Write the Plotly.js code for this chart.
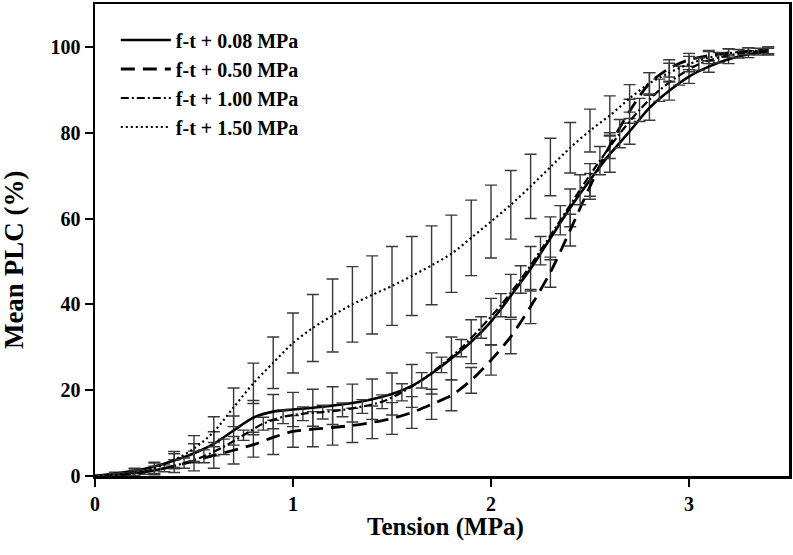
<!DOCTYPE html>
<html>
<head>
<meta charset="utf-8">
<script src="https://cdn.plot.ly/plotly-3.0.1.min.js"></script>
<style>html,body{margin:0;padding:0;background:#fff;}#chart{width:793px;height:555px;}</style>
</head>
<body>
<div id="chart"></div>
<script>
// Tension (MPa) sample points
var xFull = [0,0.1,0.2,0.3,0.4,0.5,0.6,0.7,0.8,0.9,1.0,1.1,1.2,1.3,1.4,1.5,1.6,1.7,1.8,1.9,2.0,2.1,2.2,2.3,2.4,2.5,2.6,2.7,2.8,2.9,3.0,3.1,3.2,3.3,3.4];
var xHalf = [0.05,0.15,0.25,0.35,0.45,0.55,0.65,0.75,0.85,0.95,1.05,1.15,1.25,1.35,1.45,1.55,1.65,1.75,1.85,1.95,2.05,2.15,2.25,2.35,2.45,2.55,2.65,2.75,2.85,2.95,3.05,3.15,3.25,3.35];

// f-t + 0.08 MPa (solid)
var y008 = [0,0.6,1.2,2.2,3.6,5.3,7.5,10.6,13.6,15.0,15.5,15.9,16.4,17.0,17.9,19.1,21.0,23.9,27.4,31.3,36.0,42.0,48.3,55.4,62.5,69.0,75.0,80.3,85.8,89.8,93.1,95.4,97.1,98.3,98.9];
var e008 = [0,0.3,0.6,1.0,1.6,2.2,2.8,3.4,4.0,4.0,4.0,4.3,4.4,4.4,4.7,4.9,5.0,4.8,5.0,5.1,5.4,5.0,5.2,5.0,4.4,3.8,4.2,3.0,2.9,2.2,1.6,1.3,1.0,0.8,0.8];

// f-t + 0.50 MPa (dashed)
var y050 = [0,0.2,0.6,1.3,2.3,3.5,4.8,6.0,7.3,9.0,10.4,10.9,11.3,11.8,12.5,13.4,14.8,16.7,18.8,22.3,27.0,32.5,39.5,47.5,57.3,67.5,77.0,85.0,91.5,95.0,97.0,98.0,98.6,99.0,99.2];
var e050 = [0,0.3,0.6,1.0,1.5,2.3,3.0,3.2,2.9,4.0,3.7,4.1,4.1,4.0,3.8,3.7,3.7,3.5,3.6,3.0,3.5,4.0,4.0,3.5,3.7,3.0,3.0,2.8,2.5,2.0,1.5,1.2,1.0,0.8,0.8];

// f-t + 1.00 MPa (dash-dot)
var y100 = [0.1,0.4,0.9,1.8,3.0,4.6,6.8,9.5,12.2,13.8,14.5,14.9,15.4,16.2,17.3,19.5,22.3,25.9,29.8,34.6,39.8,45.8,52.5,59.6,66.7,73.5,79.8,85.3,89.9,93.3,96.0,97.5,98.4,98.9];
var e100 = [0.1,0.3,0.5,0.8,1.2,1.5,1.8,1.2,1.5,1.6,1.6,1.6,1.6,1.6,1.6,2.0,1.8,1.8,2.0,2.5,2.7,3.2,3.3,3.4,3.5,3.3,3.3,2.7,2.6,2.2,1.4,1.2,1.0,0.8];

// f-t + 1.50 MPa (dotted)
var y150 = [0,0.3,0.8,1.8,3.7,6.4,10.3,16.0,21.6,26.4,31.0,34.5,37.4,40.0,42.2,44.3,46.6,49.1,51.8,55.5,59.3,63.2,67.5,72.0,76.5,80.5,84.0,88.0,91.5,94.0,96.0,97.5,98.5,99.0,99.2];
var e150 = [0,0.3,0.8,1.2,2.0,3.0,3.5,4.5,4.7,6.0,7.0,7.8,8.5,8.8,9.1,9.2,9.2,9.2,9.0,8.8,8.5,8.0,7.5,6.7,5.9,5.0,4.6,3.2,2.5,2.2,1.8,1.4,1.0,0.8,0.8];

var names = ['f-t + 0.08 MPa','f-t + 0.50 MPa','f-t + 1.00 MPa','f-t + 1.50 MPa'];
var xTitle = 'Tension (MPa)';
var yTitle = 'Mean PLC (%)';

var FONT = 'Liberation Serif, Times New Roman, serif';
function errCfg(arr){
  return {type:'data', array:arr, visible:true, color:'#383838', thickness:1.4, width:6};
}
function tr(x, y, e, name, dash, w, grp){
  return {x:x, y:y, type:'scatter', mode:'lines', name:name, legendgroup:grp,
    line:{color:'#000', width:w, dash:dash, shape:'spline', smoothing:0.8},
    error_y: errCfg(e), cliponaxis:false};
}
var data = [
  tr(xFull, y008, e008, names[0], 'solid', 2.6, 'a'),
  tr(xFull, y050, e050, names[1], '14px,8px', 2.8, 'b'),
  tr(xHalf, y100, e100, names[2], '8px,3px,2px,3px', 2.2, 'c'),
  tr(xFull, y150, e150, names[3], '2px,3px', 2.2, 'd')
];

var layout = {
  width:793, height:555,
  margin:{l:95, r:4, t:4, b:79},
  paper_bgcolor:'#fff', plot_bgcolor:'#fff',
  font:{family:FONT, color:'#000', size:17, weight:'bold'},
  showlegend:true,
  legend:{x:0.03, y:0.965, xanchor:'left', yanchor:'top', bgcolor:'rgba(0,0,0,0)',
    font:{family:FONT, size:20, weight:'bold', color:'#000'}, itemwidth:50, tracegroupgap:0},
  xaxis:{range:[0,3.505], tickvals:[0,1,2,3], ticktext:['0','1','2','3'],
    ticks:'outside', ticklen:8, tickwidth:2, tickcolor:'#000',
    showline:true, linewidth:2.5, linecolor:'#000', mirror:true,
    showgrid:false, zeroline:false,
    tickfont:{family:FONT, size:20, weight:'bold'}},
  yaxis:{range:[0,110], tickvals:[0,20,40,60,80,100], ticktext:['0','20','40','60','80','100'],
    ticks:'outside', ticklen:8, tickwidth:2, tickcolor:'#000',
    showline:true, linewidth:2.5, linecolor:'#000', mirror:true,
    showgrid:false, zeroline:false,
    tickfont:{family:FONT, size:20, weight:'bold'}},
  annotations:[
    {text:yTitle, xref:'paper', yref:'paper', x:-0.117, y:0.457,
     xanchor:'center', yanchor:'middle', textangle:-90, showarrow:false,
     font:{family:FONT, size:27, weight:'bold', color:'#000'}},
    {text:xTitle, xref:'paper', yref:'paper', x:0.505, y:-0.108,
     xanchor:'center', yanchor:'middle', showarrow:false,
     font:{family:FONT, size:25, weight:'bold', color:'#000'}}
  ]
};
Plotly.newPlot('chart', data, layout, {displayModeBar:false, staticPlot:true});
</script>
</body>
</html>
